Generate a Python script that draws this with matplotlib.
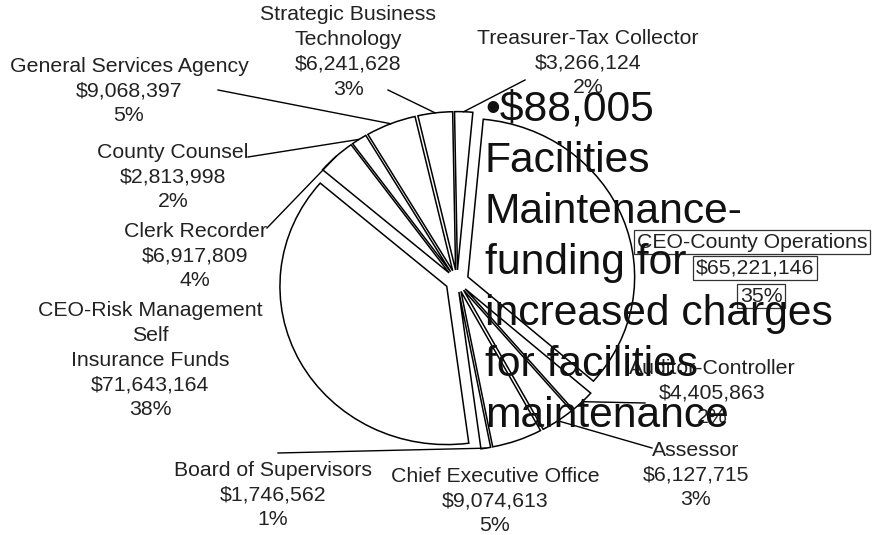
import matplotlib.pyplot as plt
import numpy as np

plt.rcParams['font.family'] = ['Liberation Sans', 'DejaVu Sans']

# budget slices, clockwise from the top
names = ['Treasurer-Tax Collector', 'CEO-County Operations', 'Auditor-Controller', 'Assessor',
         'Chief Executive Office', 'Board of Supervisors',
         'CEO-Risk Management\nSelf\nInsurance Funds', 'Clerk Recorder', 'County Counsel',
         'General Services Agency', 'Strategic Business\nTechnology']
amounts = [3266124, 65221146, 4405863, 6127715, 9074613, 1746562,
           71643164, 6917809, 2813998, 9068397, 6241628]
pcts = [2, 35, 2, 3, 5, 1, 38, 4, 2, 5, 3]

note = '\u2022$88,005\nFacilities\nMaintenance-\nfunding for\nincreased charges\nfor facilities\nmaintenance'

# layout in pixels (from top-left): label centre and leader line start (None = no line)
W, H = 874, 535
CX, CY = 457, 281
UX, UY = 166.8, 158.3   # the scanned pie is a little wider than tall
label_pos = [(588, 63), None, (712, 393), (696, 475), (495, 501), (273, 495),
             (150, 360), (195, 256), (173, 177), (129, 91), (348, 52)]
leader = [(525, 80), None, (645, 403), (652, 448), None, (278, 453),
          None, (267, 228), (248, 157), (218, 90), (388, 90)]


def px(x, y):
    return (x - CX) / UX, (CY - y) / UY


fig = plt.figure(figsize=(W / 100, H / 100), dpi=100)
ax = fig.add_axes([0, 0, 1, 1])

wedges, _ = ax.pie(amounts, startangle=91, counterclock=False, radius=1.0,
                   explode=[0.07] * len(amounts),
                   wedgeprops=dict(facecolor='white', edgecolor='black', linewidth=1.1))
ax.set_aspect('auto')
ax.set_xlim(-CX / UX, (W - CX) / UX)
ax.set_ylim(-(H - CY) / UY, CY / UY)
ax.axis('off')

fs = 15.3
for i, w in enumerate(wedges):
    txt = '%s\n$%s\n%d%%' % (names[i], format(amounts[i], ','), pcts[i])
    if label_pos[i] is not None:
        ax.text(*px(*label_pos[i]), txt, ha='center', va='center', fontsize=fs,
                linespacing=1.38, color='#222222')
    if leader[i] is not None:
        mid = np.deg2rad((w.theta1 + w.theta2) / 2)
        ex, ey = w.center[0] + w.r * np.cos(mid), w.center[1] + w.r * np.sin(mid)
        sx, sy = px(*leader[i])
        ax.plot([sx, ex], [sy, ey], color='black', lw=1.0)

# CEO-County Operations label, each line boxed
ops_lines = [names[1], '$' + format(amounts[1], ','), '%d%%' % pcts[1]]
ops_pos = [(752, 242), (755, 268), (761, 296)]
for t, p in zip(ops_lines, ops_pos):
    ax.text(*px(*p), t, ha='center', va='center', fontsize=fs, color='#222222',
            bbox=dict(boxstyle='square,pad=0.12', fc='none', ec='#333333', lw=0.9))

ax.text(*px(485, 263), note, ha='left', va='center', fontsize=30.7,
        linespacing=1.36, color='#111111')

fig.savefig('out.png', dpi=100, facecolor='white')
